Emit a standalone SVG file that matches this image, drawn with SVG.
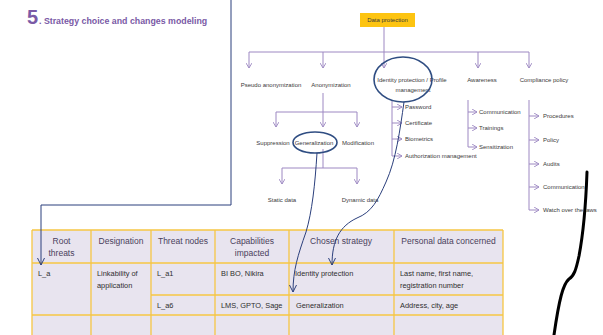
<svg xmlns="http://www.w3.org/2000/svg" width="603" height="335" viewBox="0 0 603 335">
  <defs>
    <marker id="pArrow" markerWidth="6" markerHeight="6" refX="5" refY="3" orient="auto" markerUnits="userSpaceOnUse">
      <path d="M0,0 L5,3 L0,6" fill="none" stroke="#9d88c2" stroke-width="0.9"/>
    </marker>
    <marker id="bArrow" markerWidth="8" markerHeight="8" refX="7" refY="4" orient="auto" markerUnits="userSpaceOnUse">
      <path d="M0,0.5 L7,4 L0,7.5" fill="none" stroke="#2b3f7c" stroke-width="1"/>
    </marker>
    <style>
      .lbl { font-family: "Liberation Sans", Arial, sans-serif; font-size: 6px; fill: #3a3a3a; }
      .mid { text-anchor: middle; }
      .tree { fill: none; stroke: #9d88c2; stroke-width: 1; }
      .arr { marker-end: url(#pArrow); }
      .blue { fill: none; stroke: #2b3f7c; stroke-width: 1; }
      .oval { fill: none; stroke: #2f4d82; stroke-width: 1.6; }
      .th { font-family: "Liberation Sans", Arial, sans-serif; font-size: 8.5px; fill: #4a3f5c; text-anchor: middle; }
      .td { font-family: "Liberation Sans", Arial, sans-serif; font-size: 7.4px; fill: #2e2e2e; }
      .grid { stroke: #f6c644; stroke-width: 1.3; fill: none; }
    </style>
  </defs>

  <rect width="603" height="335" fill="#ffffff"/>

  <!-- section title -->
  <g id="title">
    <text x="27" y="24" font-family="Liberation Sans, Arial, sans-serif" font-weight="bold" font-size="20" fill="#7a5aa6">5</text>
    <text x="39" y="24" font-family="Liberation Sans, Arial, sans-serif" font-weight="bold" font-size="8.8" fill="#7a5aa6">. Strategy choice and changes modeling</text>
  </g>

  <!-- tree connectors -->
  <g id="connectors">
    <path class="tree" d="M384,27 V52 M249,52 H529"/>
    <path class="tree arr" d="M249,52 V68"/>
    <path class="tree arr" d="M323,52 V68"/>
    <path class="tree arr" d="M384,52 V68"/>
    <path class="tree arr" d="M478,52 V68"/>
    <path class="tree arr" d="M529,52 V68"/>

    <path class="tree" d="M323,93 V112 M276,112 H357"/>
    <path class="tree arr" d="M276,112 V127"/>
    <path class="tree arr" d="M323,112 V127"/>
    <path class="tree arr" d="M357,112 V127"/>

    <path class="tree" d="M323,149 V168 M282,168 H357"/>
    <path class="tree arr" d="M282,168 V184"/>
    <path class="tree arr" d="M357,168 V184"/>

    <path class="tree" d="M392,100 V156"/>
    <path class="tree arr" d="M392,107 H402"/>
    <path class="tree arr" d="M392,123 H402"/>
    <path class="tree arr" d="M392,139 H402"/>
    <path class="tree arr" d="M392,156 H402"/>

    <path class="tree" d="M468,100 V147"/>
    <path class="tree arr" d="M468,112 H477"/>
    <path class="tree arr" d="M468,128 H477"/>
    <path class="tree arr" d="M468,147 H477"/>

    <path class="tree" d="M529,100 V210"/>
    <path class="tree arr" d="M529,116 H539"/>
    <path class="tree arr" d="M529,140 H539"/>
    <path class="tree arr" d="M529,164 H539"/>
    <path class="tree arr" d="M529,187 H539"/>
    <path class="tree arr" d="M529,210 H539"/>
  </g>

  <!-- tree nodes -->
  <g id="node-data-protection">
    <rect x="360" y="13" width="55" height="14" fill="#fdc411"/>
    <text class="lbl mid" x="387.5" y="22">Data protection</text>
  </g>
  <g id="node-pseudo"><text class="lbl mid" x="271" y="87">Pseudo anonymization</text></g>
  <g id="node-anonymization"><text class="lbl mid" x="331" y="87">Anonymization</text></g>
  <g id="node-identity">
    <text class="lbl mid" x="412" y="82">Identity protection / Profile</text>
    <text class="lbl mid" x="413" y="92">management</text>
  </g>
  <g id="node-awareness"><text class="lbl mid" x="482" y="82">Awareness</text></g>
  <g id="node-compliance"><text class="lbl mid" x="544" y="82">Compliance policy</text></g>

  <g id="node-suppression"><text class="lbl mid" x="273" y="145">Suppression</text></g>
  <g id="node-generalization"><text class="lbl mid" x="314" y="145">Generalization</text></g>
  <g id="node-modification"><text class="lbl mid" x="358" y="145">Modification</text></g>
  <g id="node-static"><text class="lbl mid" x="282" y="202">Static data</text></g>
  <g id="node-dynamic"><text class="lbl mid" x="360" y="202">Dynamic data</text></g>

  <g id="node-password"><text class="lbl" x="405" y="109">Password</text></g>
  <g id="node-certificate"><text class="lbl" x="405" y="125">Certificate</text></g>
  <g id="node-biometrics"><text class="lbl" x="405" y="141">Biometrics</text></g>
  <g id="node-authorization"><text class="lbl" x="405" y="158">Authorization management</text></g>

  <g id="node-communication-a"><text class="lbl" x="479" y="114">Communication</text></g>
  <g id="node-trainings"><text class="lbl" x="479" y="130">Trainings</text></g>
  <g id="node-sensitization"><text class="lbl" x="479" y="149">Sensitization</text></g>

  <g id="node-procedures"><text class="lbl" x="543" y="118">Procedures</text></g>
  <g id="node-policy"><text class="lbl" x="543" y="142">Policy</text></g>
  <g id="node-audits"><text class="lbl" x="543" y="166">Audits</text></g>
  <g id="node-communication-c"><text class="lbl" x="543" y="189">Communication</text></g>
  <g id="node-watch"><text class="lbl" x="543" y="212">Watch over the laws</text></g>

  <!-- strategy table -->
  <g id="table">
    <rect x="32" y="230" width="471" height="110" fill="#e8e4ef"/>
    <path class="grid" d="M32,230 H503 M32,263 H503 M151,295 H503 M32,315 H503
                          M32,230 V340 M91,230 V340 M151,230 V340 M215,230 V340 M289,230 V340 M394,230 V340 M503,230 V340"/>
    <text class="th" x="61.5" y="244">Root</text>
    <text class="th" x="61.5" y="256">threats</text>
    <text class="th" x="121" y="244">Designation</text>
    <text class="th" x="183" y="244">Threat nodes</text>
    <text class="th" x="252" y="244">Capabilities</text>
    <text class="th" x="252" y="256">impacted</text>
    <text class="th" x="341" y="244">Chosen strategy</text>
    <text class="th" x="448.5" y="244">Personal data concerned</text>

    <text class="td" x="38" y="276">L_a</text>
    <text class="td" x="97" y="276">Linkability of</text>
    <text class="td" x="97" y="288">application</text>
    <text class="td" x="157" y="276">L_a1</text>
    <text class="td" x="221" y="276">BI BO, Nikira</text>
    <text class="td" x="295" y="276">Identity protection</text>
    <text class="td" x="400" y="276">Last name, first name,</text>
    <text class="td" x="400" y="288">registration number</text>

    <text class="td" x="157" y="308">L_a6</text>
    <text class="td" x="221" y="308">LMS, GPTO, Sage</text>
    <text class="td" x="296" y="308">Generalization</text>
    <text class="td" x="400" y="308">Address, city, age</text>
  </g>

  <!-- highlight ovals and links into the table -->
  <g id="links">
    <ellipse class="oval" cx="403" cy="79.5" rx="29" ry="22.5"/>
    <ellipse class="oval" cx="315" cy="142.5" rx="22" ry="10.5"/>
    <path class="blue" marker-end="url(#bArrow)" d="M231,0 V205 H41 V265"/>
    <path class="blue" marker-end="url(#bArrow)" d="M317,153 C315,185 312,212 306,232 C298,255 293,270 293,292"/>
    <path class="blue" marker-end="url(#bArrow)" d="M404,102 C400,130 396,160 386,182 C378,200 372,212 357,218 C340,226 332,240 332,265"/>
    <path fill="none" stroke="#000000" stroke-width="3" stroke-linecap="round" d="M587,172 C586,200 583,235 579,256 C576,270 574,276 569,279 C563,284 559,300 554,335"/>
  </g>
</svg>
